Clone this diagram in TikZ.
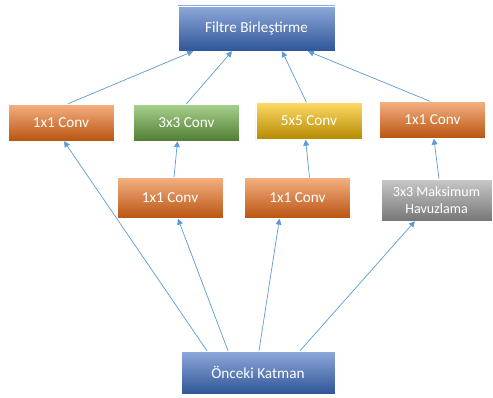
\documentclass[tikz,border=0pt]{standalone}
\usepackage{fontspec}
\setmainfont{Carlito}
\usepackage{xcolor}
\usepackage{tikz}
\usetikzlibrary{arrows.meta,positioning}
\definecolor{mavi1}{HTML}{8EA9DB}
\definecolor{mavi2}{HTML}{4472C4}
\definecolor{mavi3}{HTML}{2F5597}
\definecolor{tur1}{HTML}{F4B183}
\definecolor{tur2}{HTML}{ED7D31}
\definecolor{tur3}{HTML}{B9530F}
\definecolor{yes1}{HTML}{A9D18E}
\definecolor{yes2}{HTML}{70AD47}
\definecolor{yes3}{HTML}{507D33}
\definecolor{sar1}{HTML}{FFD966}
\definecolor{sar2}{HTML}{FFC000}
\definecolor{sar3}{HTML}{B38A00}
\definecolor{gri1}{HTML}{C9C9C9}
\definecolor{gri2}{HTML}{A5A5A5}
\definecolor{gri3}{HTML}{767676}
\definecolor{okrenk}{HTML}{5B9BD5}

\begin{document}
\begin{tikzpicture}[
  kutu/.style={draw=white,line width=0.4pt,minimum width=3.18cm,minimum height=1.11cm,
               align=center,text=white,font=\fontsize{13}{16}\selectfont,inner sep=1pt},
  katman/.style={kutu,top color=mavi1,middle color=mavi2,bottom color=mavi3},
  turuncu/.style={kutu,top color=tur1,middle color=tur2,bottom color=tur3},
  yesil/.style={kutu,top color=yes1,middle color=yes2,bottom color=yes3},
  sari/.style={kutu,top color=sar1,middle color=sar2,bottom color=sar3},
  gri/.style={kutu,top color=gri1,middle color=gri2,bottom color=gri3},
  ok/.style={-{Triangle[length=5pt,width=5pt]},line width=0.6pt,okrenk}
]
  \useasboundingbox (0,0) rectangle (14.79,11.91);
  % ust ve alt katman
  \node[katman,minimum width=4.71cm,minimum height=1.35cm] (birles) at (7.695,11.055) {Filtre Birleştirme};
  \node[katman,minimum width=4.62cm,minimum height=1.29cm] (onceki) at (7.74,0.735) {Önceki Katman};
  % ilk sira
  \node[turuncu] (c1a) at (1.83,8.235) {1x1 Conv};
  \node[yesil,right=0.57cm of c1a] (c3) {3x3 Conv};
  \node[sari,right=0.48cm of c3,yshift=0.045cm] (c5) {5x5 Conv};
  \node[turuncu,right=0.51cm of c5,yshift=0.03cm] (c1b) {1x1 Conv};
  % ikinci sira
  \node[turuncu,minimum height=1.23cm] (r1) at (5.1,5.97) {1x1 Conv};
  \node[turuncu,minimum height=1.23cm,right=0.63cm of r1] (r2) {1x1 Conv};
  \node[gri,minimum width=3.33cm,minimum height=1.26cm,font=\fontsize{12}{15}\selectfont] (havuz) at (13.095,5.91) {3x3 Maksimum\\Havuzlama};
  % oklar
  \draw[ok] ([xshift=0.21cm]c1a.north) -- ([xshift=-1.9cm]birles.south);
  \draw[ok] (c3.north) -- ([xshift=-0.735cm]birles.south);
  \draw[ok] ([xshift=-0.075cm]c5.north) -- ([xshift=0.765cm]birles.south);
  \draw[ok] ([xshift=-0.075cm]c1b.north) -- ([xshift=1.545cm]birles.south);
  \draw[ok] ([xshift=0.12cm]r1.north) -- ([xshift=-0.27cm]c3.south);
  \draw[ok] ([xshift=0.36cm]r2.north) -- ([xshift=-0.1cm]c5.south);
  \draw[ok] ([xshift=0.075cm]havuz.north) -- ([xshift=0.045cm]c1b.south);
  \draw[ok] ([xshift=-1.53cm]onceki.north) -- ([xshift=0.09cm]c1a.south);
  \draw[ok] ([xshift=-0.9cm]onceki.north) -- ([xshift=0.24cm]r1.south);
  \draw[ok] ([xshift=0.03cm]onceki.north) -- ([xshift=-0.54cm]r2.south);
  \draw[ok] ([xshift=1.26cm]onceki.north) -- ([xshift=-0.65cm]havuz.south);
\end{tikzpicture}
\end{document}
